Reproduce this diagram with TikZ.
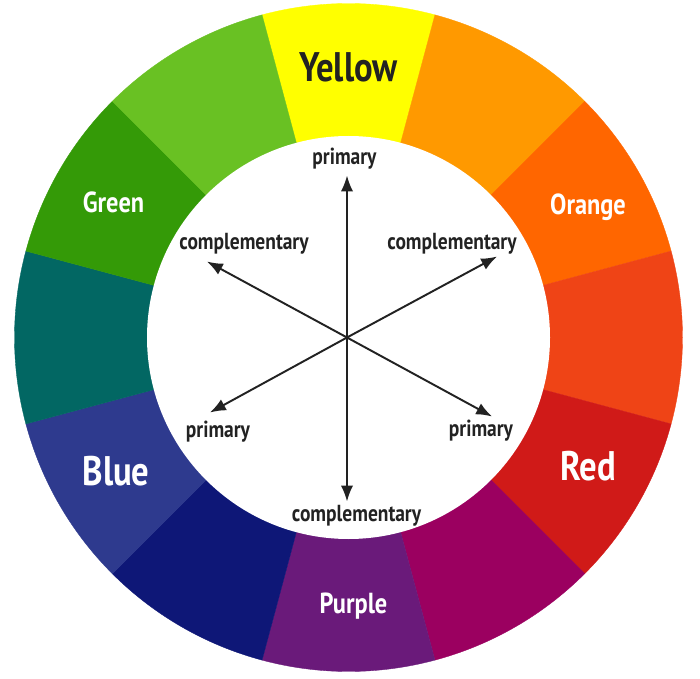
\documentclass[tikz,border=0pt]{standalone}
\usepackage{fontspec}
\newfontfamily\wheelfont{PT Sans}[FakeStretch=0.84]
\usepackage{tikz}
\usetikzlibrary{arrows.meta}

\definecolor{hueY}{HTML}{FFFF00}
\definecolor{hueYO}{HTML}{FF9900}
\definecolor{hueO}{HTML}{FF6600}
\definecolor{hueRO}{HTML}{EF4416}
\definecolor{hueR}{HTML}{D01A18}
\definecolor{hueRP}{HTML}{9B0060}
\definecolor{hueP}{HTML}{6A1A7A}
\definecolor{hueBP}{HTML}{0E1777}
\definecolor{hueB}{HTML}{2E3A8E}
\definecolor{hueBG}{HTML}{026763}
\definecolor{hueG}{HTML}{349A07}
\definecolor{hueYG}{HTML}{69C123}
\definecolor{inkgray}{HTML}{222222}

\begin{document}
\begin{tikzpicture}[
  biglabel/.style={font={\wheelfont\bfseries\fontsize{23.5}{26}\selectfont}, anchor=base, inner sep=0pt},
  midlabel/.style={font={\wheelfont\bfseries\fontsize{16.5}{19}\selectfont}, anchor=base, inner sep=0pt, text=white},
  smalllabel/.style={font={\wheelfont\bfseries\fontsize{13.2}{15}\selectfont}, anchor=base, inner sep=0pt, text=inkgray},
  spoke/.style={-{Latex[length=9pt,width=7pt]}, line width=1.1pt, draw=inkgray}
]
  % Fix the canvas to the picture size
  \useasboundingbox (0,0) rectangle (14,13.56);
  \fill[white] (0,0) rectangle (14,13.56);

  \begin{scope}[shift={(6.97,6.81)}]
  % Draw the twelve wedges of the wheel
  \filldraw[fill=hueY, draw=hueY, line width=0.2pt] (0,0) -- (75:6.68) arc[start angle=75, end angle=105, radius=6.68] -- cycle;
  \filldraw[fill=hueYO, draw=hueYO, line width=0.2pt] (0,0) -- (45:6.68) arc[start angle=45, end angle=75, radius=6.68] -- cycle;
  \filldraw[fill=hueO, draw=hueO, line width=0.2pt] (0,0) -- (15:6.68) arc[start angle=15, end angle=45, radius=6.68] -- cycle;
  \filldraw[fill=hueRO, draw=hueRO, line width=0.2pt] (0,0) -- (-15:6.68) arc[start angle=-15, end angle=15, radius=6.68] -- cycle;
  \filldraw[fill=hueR, draw=hueR, line width=0.2pt] (0,0) -- (-45:6.68) arc[start angle=-45, end angle=-15, radius=6.68] -- cycle;
  \filldraw[fill=hueRP, draw=hueRP, line width=0.2pt] (0,0) -- (-75:6.68) arc[start angle=-75, end angle=-45, radius=6.68] -- cycle;
  \filldraw[fill=hueP, draw=hueP, line width=0.2pt] (0,0) -- (-105:6.68) arc[start angle=-105, end angle=-75, radius=6.68] -- cycle;
  \filldraw[fill=hueBP, draw=hueBP, line width=0.2pt] (0,0) -- (-135:6.68) arc[start angle=-135, end angle=-105, radius=6.68] -- cycle;
  \filldraw[fill=hueB, draw=hueB, line width=0.2pt] (0,0) -- (-165:6.68) arc[start angle=-165, end angle=-135, radius=6.68] -- cycle;
  \filldraw[fill=hueBG, draw=hueBG, line width=0.2pt] (0,0) -- (165:6.68) arc[start angle=165, end angle=195, radius=6.68] -- cycle;
  \filldraw[fill=hueG, draw=hueG, line width=0.2pt] (0,0) -- (135:6.68) arc[start angle=135, end angle=165, radius=6.68] -- cycle;
  \filldraw[fill=hueYG, draw=hueYG, line width=0.2pt] (0,0) -- (105:6.68) arc[start angle=105, end angle=135, radius=6.68] -- cycle;

  % Draw the white middle
  \fill[white] (0,0) circle (4.03);

  % Colour names on the ring
  \node[biglabel, text=inkgray] (yellow) at (0,5.11) {Yellow};
  \node[midlabel] (green) at (-4.70,2.49) {Green};
  \node[midlabel] (orange) at (4.79,2.45) {Orange};
  \node[biglabel, text=white] (blue) at (-4.65,-2.95) {Blue};
  \node[biglabel, text=white] (red) at (4.79,-2.85) {Red};
  \node[midlabel] (purple) at (0.10,-5.51) {Purple};

  % Labels inside
  \node[smalllabel] (primN) at (-0.08,3.45) {primary};
  \node[smalllabel] (compNW) at (-2.09,1.75) {complementary};
  \node[smalllabel] (compNE) at (2.07,1.75) {complementary};
  \node[smalllabel] (primSW) at (-2.61,-1.99) {primary};
  \node[smalllabel] (primSE) at (2.65,-1.97) {primary};
  \node[smalllabel] (compS) at (0.16,-3.67) {complementary};

  % Arrow ends
  \coordinate (c) at (-0.03,0);
  \coordinate (tipN) at (-0.03,3.24);
  \coordinate (tipNW) at (-2.83,1.52);
  \coordinate (tipNE) at (2.97,1.62);
  \coordinate (tipSW) at (-2.77,-1.50);
  \coordinate (tipSE) at (2.87,-1.58);
  \coordinate (tipS) at (-0.03,-3.28);

  % Draw the six arrows
  \draw[spoke] (c) -- (tipN);
  \draw[spoke] (c) -- (tipNW);
  \draw[spoke] (c) -- (tipNE);
  \draw[spoke] (c) -- (tipSW);
  \draw[spoke] (c) -- (tipSE);
  \draw[spoke] (c) -- (tipS);
  \end{scope}
\end{tikzpicture}
\end{document}
